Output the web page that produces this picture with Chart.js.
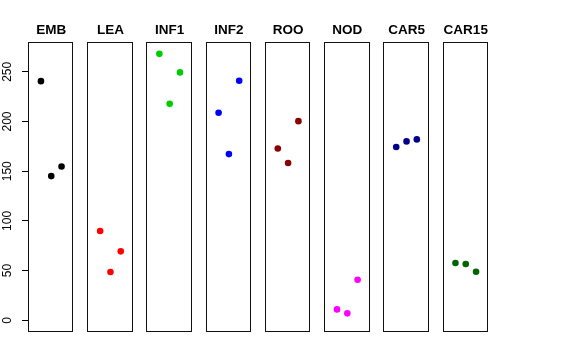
<!DOCTYPE html>
<html>
<head>
<meta charset="utf-8">
<script src="https://cdn.jsdelivr.net/npm/chart.js@4/dist/chart.umd.min.js"></script>
<style>
  html, body { margin: 0; padding: 0; background: #ffffff; }
  #wrap { width: 576px; height: 360px; position: relative; }
</style>
</head>
<body>
<div id="wrap"><canvas id="c" width="576" height="360"></canvas></div>
<script>
// ---- data ----
const categories = ["EMB", "LEA", "INF1", "INF2", "ROO", "NOD", "CAR5", "CAR15"];
const colors = ["#000000", "#FF0000", "#00CD00", "#0000FF", "#8B0000", "#FF00FF", "#00008B", "#006400"];
const EMB   = [240.6, 145.1, 154.8];
const LEA   = [89.8, 48.6, 69.4];
const INF1  = [268.1, 217.8, 249.4];
const INF2  = [208.8, 167.2, 241.0];
const ROO   = [172.9, 158.2, 200.4];
const NOD   = [11.0, 7.0, 40.8];
const CAR5  = [174.3, 180.0, 182.0];
const CAR15 = [57.6, 56.6, 48.9];
const seriesValues = [EMB, LEA, INF1, INF2, ROO, NOD, CAR5, CAR15];
const yTickValues = [0, 50, 100, 150, 200, 250];

// ---- layout of the small multiples (x units per panel) ----
const PANEL_STEP = 5.749;   // distance between panel origins in x units
const XPAD = 0.16;          // R's 4% expansion of xlim c(0,4)
const nPanels = categories.length;

const datasets = categories.map((cat, i) => ({
  label: cat,
  data: seriesValues[i].map((v, j) => ({ x: i * PANEL_STEP + (j + 1), y: v })),
  backgroundColor: colors[i],
  borderColor: colors[i],
  borderWidth: 0,
  pointRadius: 3.3,
  pointHoverRadius: 3.3,
  showLine: false
}));

const panelPlugin = {
  id: 'panels',
  afterDatasetsDraw(chart) {
    const ctx = chart.ctx;
    const xs = chart.scales.x;
    const area = chart.chartArea;
    ctx.save();
    ctx.strokeStyle = '#111111';
    ctx.lineWidth = 1;
    categories.forEach((cat, i) => {
      const l = xs.getPixelForValue(i * PANEL_STEP - XPAD);
      const r = xs.getPixelForValue(i * PANEL_STEP + 4 + XPAD);
      const L = Math.round(l) - 0.5, R = Math.round(r) - 0.5;
      ctx.strokeRect(L, area.top - 0.5, R - L, area.bottom - area.top + 1);
      ctx.fillStyle = '#000000';
      ctx.font = 'bold 13.5px "Liberation Sans", Arial, Helvetica, sans-serif';
      ctx.textAlign = 'center';
      ctx.textBaseline = 'alphabetic';
      ctx.fillText(cat, (l + r) / 2, 34);
    });
    ctx.restore();
  }
};

new Chart(document.getElementById('c'), {
  type: 'scatter',
  data: { datasets },
  options: {
    responsive: false,
    animation: false,
    events: [],
    layout: { padding: { top: 43, bottom: 29, left: 0, right: 88 } },
    plugins: { legend: { display: false }, tooltip: { enabled: false }, title: { display: false } },
    scales: {
      x: {
        type: 'linear',
        display: false,
        min: -XPAD,
        max: (nPanels - 1) * PANEL_STEP + 4 + XPAD
      },
      y: {
        type: 'linear',
        position: 'left',
        min: -10.75,
        max: 279.0,
        afterFit(scale) { scale.width = 29; },
        afterBuildTicks(scale) { scale.ticks = yTickValues.map(v => ({ value: v })); },
        border: { display: false },
        grid: {
          display: true,
          drawOnChartArea: false,
          drawTicks: true,
          tickLength: 7,
          tickColor: '#000000',
          tickWidth: 1
        },
        ticks: {
          minRotation: 90,
          maxRotation: 90,
          crossAlign: 'center',
          padding: 4,
          color: '#000000',
          font: { family: '"Liberation Sans", Arial, Helvetica, sans-serif', size: 12 },
          callback: (v) => String(v)
        }
      }
    }
  },
  plugins: [panelPlugin]
});
</script>
</body>
</html>
